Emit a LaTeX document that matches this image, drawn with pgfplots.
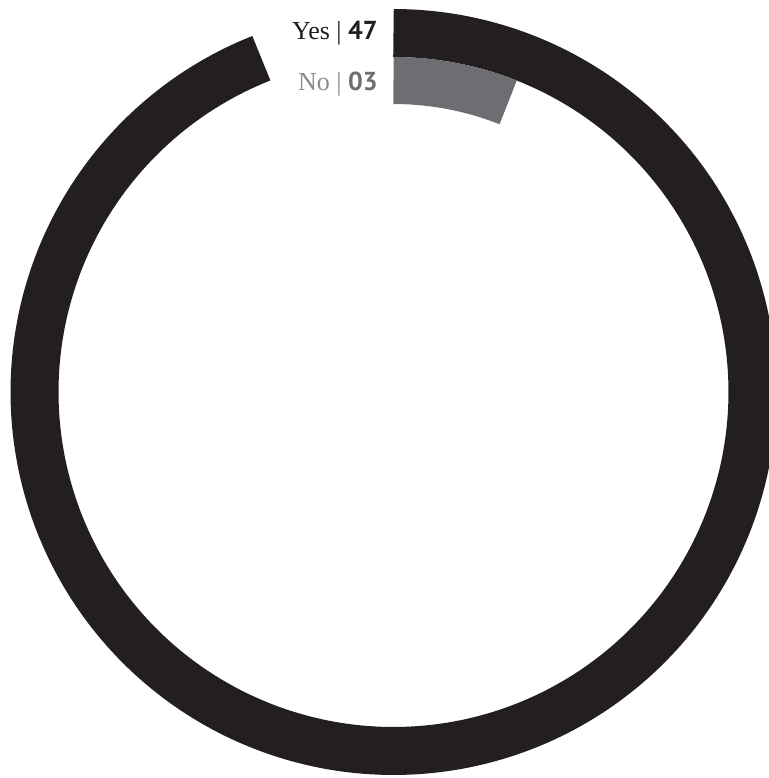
\documentclass[border=0pt]{standalone}
\usepackage{pgfplots}
\pgfplotsset{compat=1.18}
\usepackage{pgfplotstable}
\usepackage{fontspec}
\setmainfont{Liberation Serif}
\newfontfamily\numfont{PT Sans}
\definecolor{ringblack}{HTML}{231F20}
\definecolor{ringgray}{HTML}{6D6E71}
\definecolor{labgray}{HTML}{8A8C8E}
% ring data: value out of a total of 50
\pgfplotstableread{
label value radius thick
Yes 47 359 48
No 3 311.5 47
}\ringdata
\pgfplotstablegetelem{0}{value}\of\ringdata \edef\yesval{\pgfplotsretval}
\pgfplotstablegetelem{1}{value}\of\ringdata \edef\noval{\pgfplotsretval}
\def\total{50}
\begin{document}
\begin{tikzpicture}
\begin{axis}[hide axis, x=0.5pt, y=0.5pt,
  xmin=-393.5, xmax=375.5, ymin=-386, ymax=392, clip=true]
\addplot[ringblack, line width=24pt, domain=0:\yesval, samples=300, no marks]
  ({359*cos(90-360*x/\total)},{359*sin(90-360*x/\total)});
\addplot[ringgray, line width=23.5pt, domain=0:\noval, samples=40, no marks]
  ({311.5*cos(90-360*x/\total)},{311.5*sin(90-360*x/\total)});
\node[anchor=base east, inner sep=0pt, font=\fontsize{13pt}{15pt}\selectfont, text=ringblack]
  at (axis cs:-15.5,352) {Yes | {\numfont\bfseries 47}};
\node[anchor=base east, inner sep=0pt, font=\fontsize{13pt}{15pt}\selectfont, text=labgray]
  at (axis cs:-15.5,301) {No | {\numfont\bfseries\color{ringgray}03}};
\end{axis}
\pgfresetboundingbox
\path (current axis.south west) rectangle (current axis.north east);
\end{tikzpicture}
\end{document}
